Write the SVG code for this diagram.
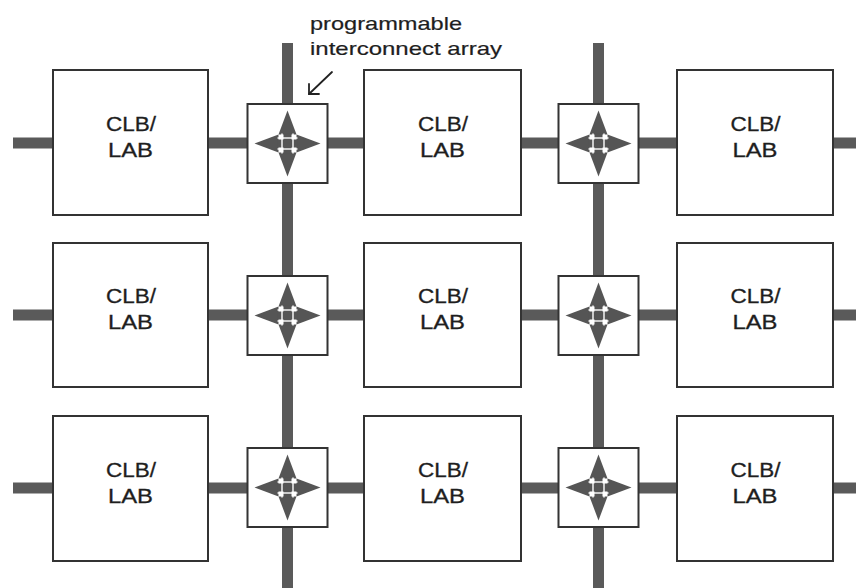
<svg xmlns="http://www.w3.org/2000/svg" width="856" height="588" viewBox="0 0 856 588">
<defs>
<style>
.bus{stroke:#5a5a5a;stroke-width:11;fill:none}
.clb{fill:#fff;stroke:#333;stroke-width:2}
.sw{fill:#fff;stroke:#333;stroke-width:2}
.t{font-family:"Liberation Sans",Arial,sans-serif;font-size:20px;fill:#1e1e1e;text-anchor:middle;stroke:#1e1e1e;stroke-width:0.3}
.lbl{font-family:"Liberation Sans",Arial,sans-serif;font-size:19px;fill:#1e1e1e;stroke:#1e1e1e;stroke-width:0.2}
.ar{fill:#555}
.gap{stroke:#fff;stroke-width:1.4}
</style>
<g id="arrow4">
<polygon class="ar" points="-33,0 -9,-9 -9,9"/>
<polygon class="ar" points="33,0 9,-9 9,9"/>
<polygon class="ar" points="0,-33 -9,-9 9,-9"/>
<polygon class="ar" points="0,33 -9,9 9,9"/>
<rect class="ar" x="-10" y="-4" width="20" height="8"/>
<rect class="ar" x="-4" y="-10" width="8" height="20"/>
<line class="gap" x1="-5.5" y1="-10" x2="-5.5" y2="10"/>
<line class="gap" x1="5.5" y1="-10" x2="5.5" y2="10"/>
<line class="gap" x1="-10" y1="-5.5" x2="10" y2="-5.5"/>
<line class="gap" x1="-10" y1="5.5" x2="10" y2="5.5"/>
</g>
</defs>
<rect width="856" height="588" fill="#fff"/>
<g id="connectors">
<line class="bus" x1="13" y1="143" x2="856" y2="143"/>
<line class="bus" x1="13" y1="315" x2="856" y2="315"/>
<line class="bus" x1="13" y1="488" x2="856" y2="488"/>
<line class="bus" x1="287.5" y1="43" x2="287.5" y2="588"/>
<line class="bus" x1="598.5" y1="43" x2="598.5" y2="588"/>
<g stroke="#222" stroke-width="1.8" fill="none" stroke-linecap="round">
<line x1="332" y1="72" x2="309" y2="94"/>
<polyline points="309,84 309,94 319,94"/>
</g>
</g>
<g id="clb-r1c1"><rect class="clb" x="53" y="70" width="155" height="145"/><text class="t" x="131" y="131" textLength="50" lengthAdjust="spacingAndGlyphs">CLB/</text><text class="t" x="130.5" y="157" textLength="45" lengthAdjust="spacingAndGlyphs">LAB</text></g>
<g id="clb-r1c2"><rect class="clb" x="364" y="70" width="157" height="145"/><text class="t" x="443" y="131" textLength="50" lengthAdjust="spacingAndGlyphs">CLB/</text><text class="t" x="442.5" y="157" textLength="45" lengthAdjust="spacingAndGlyphs">LAB</text></g>
<g id="clb-r1c3"><rect class="clb" x="677" y="70" width="156" height="145"/><text class="t" x="755.5" y="131" textLength="50" lengthAdjust="spacingAndGlyphs">CLB/</text><text class="t" x="755" y="157" textLength="45" lengthAdjust="spacingAndGlyphs">LAB</text></g>
<g id="clb-r2c1"><rect class="clb" x="53" y="243" width="155" height="144"/><text class="t" x="131" y="303" textLength="50" lengthAdjust="spacingAndGlyphs">CLB/</text><text class="t" x="130.5" y="329" textLength="45" lengthAdjust="spacingAndGlyphs">LAB</text></g>
<g id="clb-r2c2"><rect class="clb" x="364" y="243" width="157" height="144"/><text class="t" x="443" y="303" textLength="50" lengthAdjust="spacingAndGlyphs">CLB/</text><text class="t" x="442.5" y="329" textLength="45" lengthAdjust="spacingAndGlyphs">LAB</text></g>
<g id="clb-r2c3"><rect class="clb" x="677" y="243" width="156" height="144"/><text class="t" x="755.5" y="303" textLength="50" lengthAdjust="spacingAndGlyphs">CLB/</text><text class="t" x="755" y="329" textLength="45" lengthAdjust="spacingAndGlyphs">LAB</text></g>
<g id="clb-r3c1"><rect class="clb" x="53" y="416" width="155" height="145"/><text class="t" x="131" y="477" textLength="50" lengthAdjust="spacingAndGlyphs">CLB/</text><text class="t" x="130.5" y="503" textLength="45" lengthAdjust="spacingAndGlyphs">LAB</text></g>
<g id="clb-r3c2"><rect class="clb" x="364" y="416" width="157" height="145"/><text class="t" x="443" y="477" textLength="50" lengthAdjust="spacingAndGlyphs">CLB/</text><text class="t" x="442.5" y="503" textLength="45" lengthAdjust="spacingAndGlyphs">LAB</text></g>
<g id="clb-r3c3"><rect class="clb" x="677" y="416" width="156" height="145"/><text class="t" x="755.5" y="477" textLength="50" lengthAdjust="spacingAndGlyphs">CLB/</text><text class="t" x="755" y="503" textLength="45" lengthAdjust="spacingAndGlyphs">LAB</text></g>
<g id="sw-r1c1"><rect class="sw" x="247.5" y="104" width="80" height="79"/><use href="#arrow4" x="287.5" y="143.5"/></g>
<g id="sw-r1c2"><rect class="sw" x="558.5" y="104" width="80" height="79"/><use href="#arrow4" x="598.5" y="143.5"/></g>
<g id="sw-r2c1"><rect class="sw" x="247.5" y="276" width="80" height="79"/><use href="#arrow4" x="287.5" y="315.5"/></g>
<g id="sw-r2c2"><rect class="sw" x="558.5" y="276" width="80" height="79"/><use href="#arrow4" x="598.5" y="315.5"/></g>
<g id="sw-r3c1"><rect class="sw" x="247.5" y="448" width="80" height="79"/><use href="#arrow4" x="287.5" y="487.5"/></g>
<g id="sw-r3c2"><rect class="sw" x="558.5" y="448" width="80" height="79"/><use href="#arrow4" x="598.5" y="487.5"/></g>
<g id="label">
<text class="lbl" x="310" y="30" textLength="152" lengthAdjust="spacingAndGlyphs">programmable</text>
<text class="lbl" x="310" y="55" textLength="192" lengthAdjust="spacingAndGlyphs">interconnect array</text>
</g>
</svg>
